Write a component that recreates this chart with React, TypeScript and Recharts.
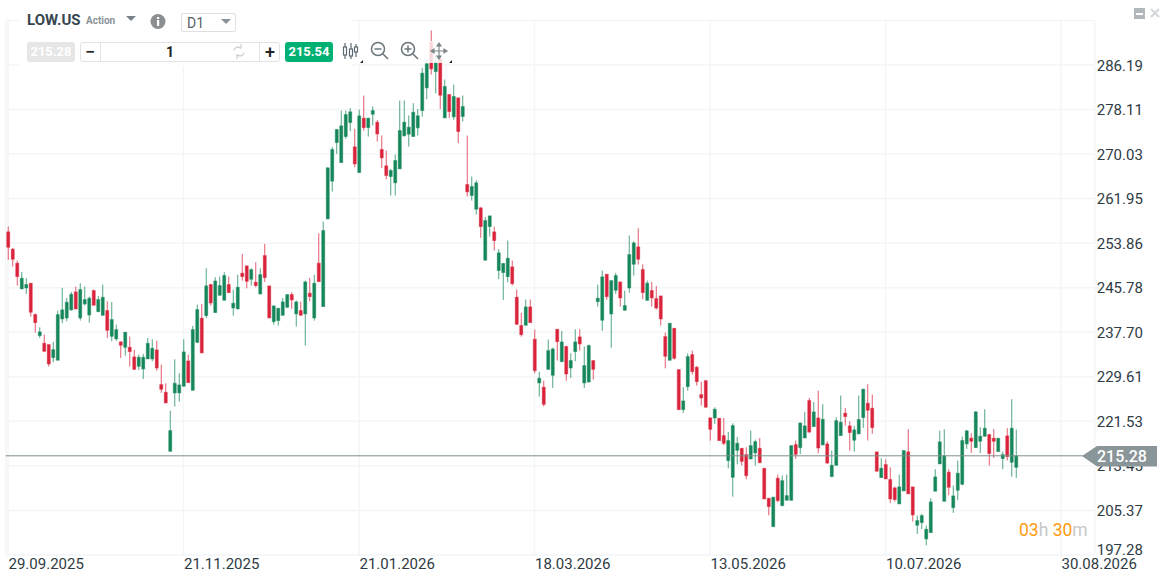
import { Bar, CartesianGrid, ComposedChart, ReferenceLine, XAxis, YAxis } from 'recharts'

const opens = [
  255.91,252.76,250.22,245.56,245.74,246.59,240.9,237.09,235.7,235.46,
  233.1,232.62,240.12,240.3,241.75,245.02,240.3,242.84,240.84,245.26,
  241.45,240.78,241.63,236.97,236.49,235.94,234.97,234.97,233.22,231.53,
  231.04,232.86,232.86,234.49,228.2,226.81,216.1,226.69,226.69,227.9,
  232.49,227.17,235.88,240.24,240.72,246.35,241.27,244.41,243.51,246.35,
  242.11,241.93,248.41,249.74,247.32,246.77,244.65,251.61,246.11,239.63,
  239.81,240.78,242.24,244.53,241.03,241.63,241.03,244.78,240.3,250.22,
  242.36,258.27,265.12,272.12,268.49,273.21,275.75,271.34,266.68,276.54,
  274.84,277.26,275.81,270.86,267.89,265.96,264.81,267.35,273.34,273.64,
  273.22,274.79,277.93,282.05,290.34,285.01,287.31,276.6,280.84,276.79,
  280.23,276.85,264.5,262.51,260.03,260.27,250.77,256.88,255.91,248.9,
  248.53,247.8,249.56,244.05,238.91,238.97,242.3,236.43,228.5,227.72,
  230.98,229.89,238.24,232.37,235.1,231.22,234.19,236.85,228.5,228.68,
  232.56,243.26,239.88,248.22,241.02,245.32,246.83,241.69,245.74,250.04,
  253.19,249.07,243.5,245.26,243.81,244.29,236.91,232.62,238.42,230.92,
  223.66,227.84,233.64,231.35,226.38,228.92,222.15,222.15,222.09,218.94,
  214.41,211.38,216.28,216.64,215.49,214.71,215.8,216.64,213.01,207.57,
  202.43,211.2,206.24,207.21,207.21,217.31,216.76,218.52,225.3,220.58,
  222.15,217.25,217.43,211.5,213.56,218.95,223.0,220.71,218.11,219.26,
  222.22,224.82,223.91,215.99,211.33,213.69,210.97,209.45,206.55,208.91,
  215.99,209.64,202.68,203.16,200.2,201.35,208.85,213.81,207.03,212.3,
  205.88,209.03,210.12,217.44,218.47,216.77,217.92,218.83,219.13,218.47,
  216.05,214.78,218.89,214.11,213.2,
]

const closes = [
  253.12,250.95,247.8,247.5,246.35,241.33,239.45,237.76,234.25,231.95,
  234.55,240.9,241.75,243.14,244.59,241.93,245.44,243.63,243.87,242.6,
  243.63,244.05,238.06,240.0,238.18,235.34,237.7,234.19,230.98,233.16,
  233.16,235.7,234.79,231.22,227.35,224.87,219.85,228.44,228.14,234.13,
  228.56,238.18,241.81,233.95,246.11,243.02,247.0,246.17,247.98,244.9,
  242.96,245.87,247.8,246.95,249.07,246.17,248.16,247.62,240.3,242.48,
  242.05,243.2,244.53,243.57,243.2,240.78,246.83,244.17,246.59,246.89,
  256.15,267.52,270.85,274.48,275.15,277.2,277.69,268.25,276.96,274.84,
  276.54,277.93,273.69,269.34,266.14,267.05,268.86,274.3,275.82,274.91,
  277.63,276.97,284.71,286.41,285.5,286.71,280.72,282.29,277.75,280.48,
  274.12,278.66,263.17,264.14,264.81,256.88,257.97,258.82,254.34,252.1,
  250.17,251.13,246.53,239.15,237.27,242.3,239.45,230.74,229.35,224.63,
  234.37,234.67,236.0,235.94,230.13,232.56,235.94,235.58,231.65,235.28,
  230.98,243.87,247.74,244.17,247.07,247.98,243.93,242.54,251.79,253.91,
  250.95,244.9,246.59,243.93,242.11,240.12,233.34,239.33,232.98,223.66,
  225.23,233.28,230.56,228.74,225.78,224.09,220.09,223.72,218.04,217.55,
  218.04,220.76,217.55,214.28,211.68,217.13,217.85,214.04,207.45,206.06,
  207.75,207.15,210.77,208.05,217.13,215.55,221.24,220.7,219.61,223.24,
  216.7,221.91,213.98,213.56,221.66,221.37,222.4,219.5,219.98,221.86,
  227.36,223.55,220.4,212.48,213.02,211.09,207.46,207.34,209.64,216.23,
  208.37,204.55,203.53,204.43,201.95,206.91,211.45,217.8,215.26,209.57,
  208.0,212.12,218.05,219.8,217.92,223.25,218.83,220.28,215.69,217.92,
  218.47,215.5,215.14,220.28,215.26,
]

const highs = [
  256.88,253.0,250.71,248.65,247.5,246.59,241.14,238.6,237.27,235.46,
  235.94,241.63,245.74,243.93,245.02,245.99,246.59,245.99,244.17,245.44,
  244.29,246.35,243.32,243.2,239.09,236.06,237.7,236.91,234.49,233.64,
  233.76,236.67,236.43,236.19,231.83,228.44,223.48,232.8,230.26,236.43,
  233.64,238.85,242.72,242.84,249.31,246.47,247.68,247.8,248.59,247.8,
  245.44,248.16,251.92,249.8,249.31,250.4,249.31,253.73,246.11,242.54,
  242.11,243.93,244.53,244.96,243.45,243.26,247.08,247.56,248.16,255.67,
  257.78,267.65,271.27,274.6,277.93,277.93,278.35,274.6,278.11,280.65,
  276.6,278.66,276.24,273.4,270.67,267.35,269.95,279.75,279.75,277.03,
  279.27,278.24,285.68,287.19,292.45,287.74,287.31,283.56,280.84,282.65,
  280.23,280.66,273.4,265.96,265.23,260.39,258.58,258.82,256.88,252.77,
  250.29,254.34,250.71,245.44,241.21,243.63,243.63,238.18,230.5,228.92,
  236.37,234.91,238.24,237.94,235.28,233.89,238.24,238.24,235.1,235.46,
  232.56,246.35,248.89,248.22,247.07,248.47,246.83,245.26,255.24,254.21,
  256.57,250.04,247.07,246.83,246.11,244.29,237.64,239.33,238.48,230.92,
  227.72,233.89,234.37,231.59,228.74,228.92,222.27,224.09,222.09,222.15,
  219.61,221.18,218.7,216.7,216.83,219.85,218.22,218.52,213.01,207.63,
  207.87,211.87,211.68,211.87,217.13,218.04,221.24,223.24,225.78,225.05,
  227.11,224.63,217.91,216.22,222.27,226.21,223.97,221.55,220.71,226.21,
  227.42,228.27,226.39,215.99,214.84,214.66,213.2,209.7,211.87,216.23,
  220.1,209.64,204.43,204.74,202.62,207.58,212.84,219.86,220.1,212.84,
  209.88,214.42,218.77,219.98,219.38,223.37,220.47,223.73,219.26,220.16,
  218.47,216.05,220.28,225.55,220.04,
]

const lows = [
  250.83,249.62,246.17,245.56,244.65,240.54,237.64,236.67,234.13,231.47,
  232.25,232.62,239.33,239.69,241.63,241.93,239.82,242.54,239.45,242.6,
  241.33,240.72,236.67,236.06,236.19,233.04,233.46,231.47,230.86,230.86,
  229.23,232.86,232.43,230.74,226.69,224.87,216.1,224.21,225.11,227.9,
  228.56,227.17,235.7,233.95,240.3,242.54,241.27,244.41,243.45,244.9,
  240.72,241.87,247.08,245.68,246.17,245.87,244.59,246.83,240.3,239.09,
  238.91,240.78,242.11,241.93,238.73,240.78,235.28,243.32,239.81,246.89,
  242.36,258.27,263.23,270.07,268.49,272.79,274.18,267.65,266.68,274.3,
  273.21,275.21,272.3,267.53,265.47,262.51,262.51,267.35,273.22,271.4,
  273.22,273.4,276.85,279.99,284.47,281.08,278.18,276.6,276.6,276.24,
  272.0,275.94,262.33,261.6,259.06,254.82,250.77,255.07,252.52,247.32,
  243.57,246.77,246.17,239.03,236.91,238.97,239.45,230.26,226.02,224.21,
  230.86,227.6,232.56,232.25,228.92,229.41,232.43,234.37,227.6,228.56,
  229.11,242.36,237.96,243.57,234.91,244.65,242.36,241.63,244.84,247.98,
  249.98,243.69,243.45,242.36,241.81,238.91,231.16,232.62,232.74,223.6,
  223.06,227.11,230.01,228.02,224.39,224.09,218.04,221.06,218.04,217.19,
  213.01,207.87,213.74,213.5,211.02,214.71,213.5,213.92,207.45,204.48,
  202.43,206.84,206.12,207.21,207.21,214.71,215.61,218.52,219.37,220.58,
  215.74,217.25,213.8,211.5,213.56,218.95,220.77,216.23,216.05,219.26,
  220.34,218.05,219.26,212.48,211.27,211.09,206.73,206.97,206.55,208.91,
  208.37,203.34,201.11,202.01,199.05,201.35,208.85,213.81,207.03,208.12,
  204.92,207.22,209.94,216.53,215.81,216.77,215.75,218.77,213.51,214.9,
  216.05,212.84,214.42,211.51,211.27,
]

const priceTicks = [197.28, 205.37, 213.45, 221.53, 229.61, 237.7, 245.78, 253.86, 261.95, 270.03, 278.11, 286.19]
const dateLabels = ['29.09.2025', '21.11.2025', '21.01.2026', '18.03.2026', '13.05.2026', '10.07.2026', '30.08.2026']
const dateSlots = [0, 39, 78, 117, 156, 195, 234]
const lastPrice = 215.28
const askPrice = 215.54
const slotCount = 242

const rows = Array.from({ length: slotCount }, (_, i) => ({
  slot: i,
  open: opens[i],
  close: closes[i],
  high: highs[i],
  low: lows[i],
}))

const font = 'Roboto, sans-serif'
const green = '#16875a'
const red = '#d9243c'

function Candle(props: any) {
  const { x, y, width, height, payload } = props
  if (payload == null || payload.open == null) return null
  const up = payload.close >= payload.open
  const color = up ? green : red
  const cx = x + width / 2
  const perUnit = height / (payload.high - payload.low)
  const top = y + (payload.high - Math.max(payload.open, payload.close)) * perUnit
  const bodyH = Math.max(Math.abs(payload.open - payload.close) * perUnit, 1)
  return (
    <g>
      <line x1={cx} x2={cx} y1={y} y2={y + height} stroke={color} strokeOpacity={0.75} strokeWidth={1} />
      <rect x={cx - 1.5} y={top} width={3} height={bodyH} fill={color} stroke={color} strokeOpacity={0.5} strokeWidth={0.9} />
    </g>
  )
}

function PriceTick({ x, y, payload }: any) {
  const lift = payload.value === 197.28 ? -6 : 0
  return (
    <text x={x - 6} y={y + lift} dy={5.5} textAnchor="start" fontFamily={font} fontSize={15} fill="#2f3b44">
      {payload.value.toFixed(2)}
    </text>
  )
}

function DateTick({ x, y, payload }: any) {
  return (
    <text x={x + 0.5} y={y} dy={6} textAnchor="start" fontFamily={font} fontSize={15} fill="#2f3b44">
      {dateLabels[dateSlots.indexOf(payload.value)]}
    </text>
  )
}

function Box({ style, children }: any) {
  return (
    <div style={{ position: 'absolute', boxSizing: 'border-box', fontFamily: font, ...style }}>{children}</div>
  )
}

function Toolbar() {
  return (
    <>
      <Box style={{ left: 20, top: 0, width: 332, height: 66, background: 'rgba(255,255,255,0.94)' }} />
      <Box style={{ left: 352, top: 41, width: 108, height: 22, background: 'rgba(255,255,255,0.82)' }} />
      <Box style={{ left: 27, top: 11, fontSize: 15, fontWeight: 700, color: '#37474f' }}>LOW.US</Box>
      <Box style={{ left: 86, top: 15, fontSize: 10, fontWeight: 700, color: '#8a9299' }}>Action</Box>
      <Box style={{ left: 181, top: 13, width: 55, height: 19, border: '1px solid #e0e0e0', borderRadius: 2, fontSize: 14, color: '#5a6268', paddingLeft: 5, lineHeight: '18px' }}>D1</Box>
      <Box style={{ left: 27, top: 42, width: 48, height: 20, background: '#e6e6e6', borderRadius: 3, color: '#fff', fontSize: 13, fontWeight: 700, textAlign: 'center', lineHeight: '20px' }}>215.28</Box>
      <Box style={{ left: 80, top: 42, width: 200, height: 20, border: '1px solid #e2e2e2', borderRadius: 3, background: '#fff' }} />
      <Box style={{ left: 100, top: 42, width: 1, height: 20, background: '#e2e2e2' }} />
      <Box style={{ left: 259, top: 42, width: 1, height: 20, background: '#e2e2e2' }} />
      <Box style={{ left: 80, top: 42, width: 20, height: 20, fontSize: 18, fontWeight: 500, color: '#222', textAlign: 'center', lineHeight: '19px' }}>−</Box>
      <Box style={{ left: 160, top: 42, width: 20, height: 20, fontSize: 14, fontWeight: 700, color: '#222', textAlign: 'center', lineHeight: '21px' }}>1</Box>
      <Box style={{ left: 260, top: 42, width: 20, height: 20, fontSize: 18, fontWeight: 500, color: '#222', textAlign: 'center', lineHeight: '19px' }}>+</Box>
      <Box style={{ left: 285, top: 42, width: 48, height: 20, background: '#00b173', borderRadius: 3, color: '#fff', fontSize: 13, fontWeight: 700, textAlign: 'center', lineHeight: '20px' }}>{askPrice.toFixed(2)}</Box>
      <svg width={1160} height={578} style={{ position: 'absolute', left: 0, top: 0, pointerEvents: 'none' }}>
        <polygon points="126,16 136,16 131,21" fill="#78828a" />
        <polygon points="221,19 231,19 226,24" fill="#8a9299" />
        <circle cx={158} cy={21.5} r={7.5} fill="#8b8f92" />
        <rect x={157} y={20} width={2.2} height={6} fill="#fff" />
        <rect x={157} y={17} width={2.2} height={2} fill="#fff" />
        <g fill="none" stroke="#c9ced0" strokeWidth={1.2}>
          <path d="M234 50.5 a4 4 0 0 1 7 -2 M236 47 l5 1 l0 -4" />
          <path d="M244 52.5 a4 4 0 0 1 -7 2 M242 56 l-5 -1 l0 4" />
        </g>
        <g stroke="#5f6a70" strokeWidth={1.2} fill="#fff">
          <path d="M345 43 v16 M351 43 v16 M356 44 v13" />
          <rect x={343.5} y={47} width={3} height={8} />
          <rect x={349.5} y={49} width={3} height={7} />
          <rect x={354.5} y={47} width={3} height={5} />
        </g>
        <g stroke="#6b777d" strokeWidth={1.5} fill="none">
          <circle cx={378} cy={49} r={6.5} />
          <path d="M374.5 49 h7 M383 54 l5 5" />
          <circle cx={408} cy={49} r={6.5} />
          <path d="M404.5 49 h7 M408 45.5 v7 M413 54 l5 5" />
        </g>
        <g stroke="#7c878c" strokeWidth={1.2} fill="#7c878c">
          <path d="M439 44 v14 M432 51 h14" />
          <polygon points="439,43 437,46 441,46" />
          <polygon points="439,59 437,56 441,56" />
          <polygon points="431,51 434,49 434,53" />
          <polygon points="447,51 444,49 444,53" />
        </g>
        <polygon points="360,63 363,63 363,60" fill="#222" />
        <polygon points="449,63 452,63 452,60" fill="#222" />
        <rect x={1134} y={8} width={11} height={11} fill="#b0b8bc" />
        <rect x={1136} y={13} width={7} height={2} fill="#fff" />
        <path d="M1151 9 l8 8 M1159 9 l-8 8" stroke="#d5d8da" strokeWidth={2.2} />
        <polygon points="1082,456 1097,446 1157,446 1157,466.5 1097,466.5" fill="#8a9599" />
        <text x={1097} y={462} fontFamily={font} fontSize={16} fontWeight={500} fill="#fff">
          {lastPrice.toFixed(2)}
        </text>
      </svg>
      <Box style={{ left: 1019, top: 520, fontSize: 17.5, color: '#c8c8c8', whiteSpace: 'nowrap' }}>
        <span style={{ color: '#ff9a0d' }}>03</span>h <span style={{ color: '#ff9a0d' }}>30</span>m
      </Box>
    </>
  )
}

export default function App() {
  return (
    <div style={{ position: 'absolute', left: 0, top: 0, width: 1160, height: 578, background: '#fff', overflow: 'hidden' }}>
      <ComposedChart
        width={1160}
        height={578}
        data={rows}
        barCategoryGap={0}
        margin={{ top: 20.5, right: 0, bottom: 0, left: 5.75 }}
      >
        <CartesianGrid stroke="#f3f5f7" strokeWidth={1.5} />
        <XAxis
          dataKey="slot"
          type="category"
          ticks={dateSlots}
          interval={0}
          height={23}
          tick={<DateTick />}
          tickLine={false}
          axisLine={false}
        />
        <YAxis
          orientation="right"
          domain={[197.28, 294.27]}
          ticks={priceTicks}
          interval={0}
          width={65.25}
          tick={<PriceTick />}
          tickLine={false}
          axisLine={false}
          allowDataOverflow
        />
        <Bar dataKey={(d: any) => (d.open == null ? null : [d.low, d.high])} barSize={3} shape={<Candle />} isAnimationActive={false} />
        <ReferenceLine y={lastPrice} stroke="#7d8f8b" strokeWidth={1} />
      </ComposedChart>
      <Toolbar />
    </div>
  )
}
